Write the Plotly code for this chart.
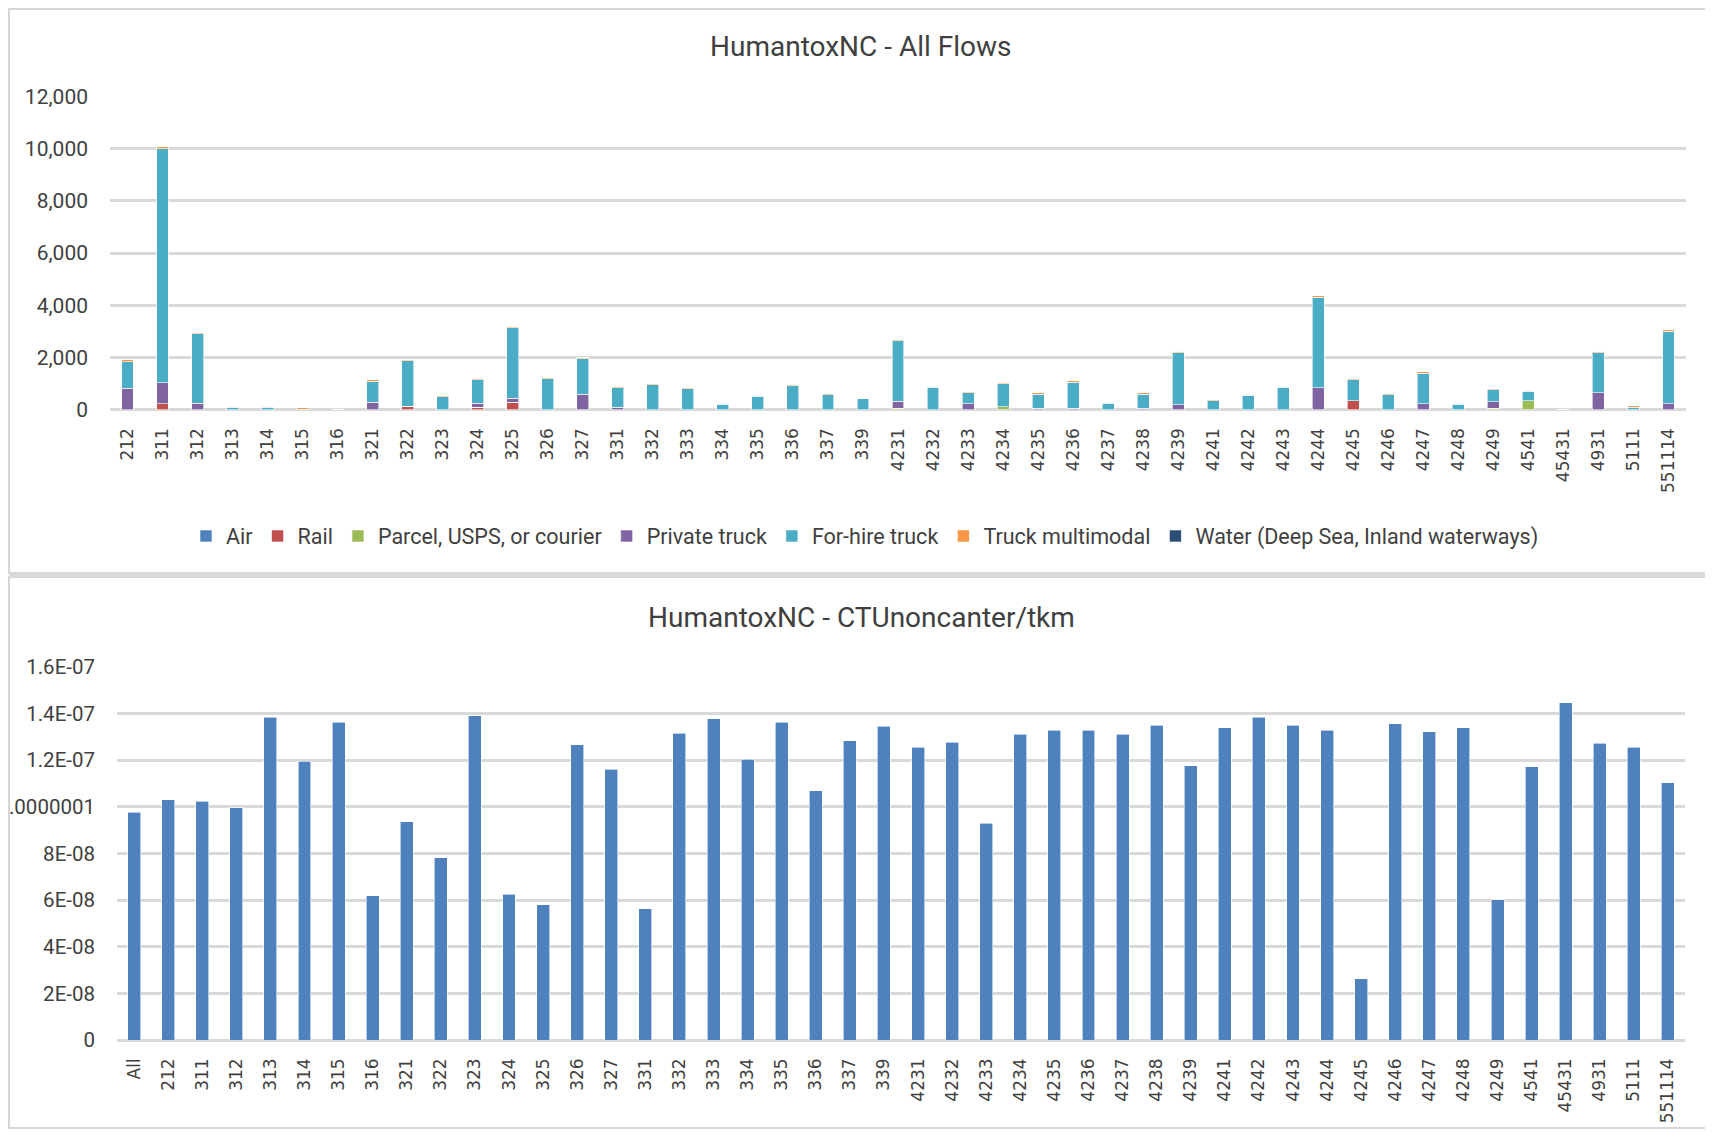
import plotly.graph_objects as go

# ---------------- data ----------------
categories_top = ["212", "311", "312", "313", "314", "315", "316", "321", "322", "323",
                  "324", "325", "326", "327", "331", "332", "333", "334", "335", "336",
                  "337", "339", "4231", "4232", "4233", "4234", "4235", "4236", "4237", "4238",
                  "4239", "4241", "4242", "4243", "4244", "4245", "4246", "4247", "4248", "4249",
                  "4541", "45431", "4931", "5111", "551114"]

air = [0] * 45
rail = [0, 230, 0, 0, 0, 0, 0, 0, 130, 0,
        100, 290, 0, 0, 0, 0, 0, 0, 0, 0,
        0, 0, 0, 0, 0, 0, 0, 0, 0, 0,
        0, 0, 0, 0, 0, 335, 0, 0, 0, 0,
        0, 0, 0, 0, 0]
parcel = [0, 0, 0, 0, 0, 0, 0, 0, 0, 0,
          0, 0, 0, 0, 0, 0, 0, 0, 0, 0,
          0, 0, 50, 0, 0, 120, 0, 0, 0, 0,
          0, 0, 0, 0, 0, 0, 0, 0, 0, 60,
          335, 0, 0, 0, 0]
private_truck = [830, 810, 240, 0, 0, 0, 0, 280, 0, 0,
                 140, 140, 0, 585, 90, 0, 0, 0, 0, 0,
                 0, 0, 280, 0, 237, 0, 60, 60, 0, 60,
                 195, 0, 0, 0, 850, 0, 0, 237, 0, 240,
                 0, 0, 640, 0, 237]
for_hire_truck = [1010, 8960, 2660, 90, 85, 20, 0, 800, 1750, 500,
                  900, 2700, 1180, 1360, 760, 950, 800, 210, 510, 910,
                  565, 410, 2310, 860, 420, 875, 540, 990, 250, 540,
                  1990, 350, 560, 860, 3450, 810, 570, 1160, 210, 460,
                  370, 0, 1550, 100, 2770]
truck_multimodal = [65, 70, 65, 45, 45, 60, 0, 60, 55, 45,
                    55, 60, 60, 60, 50, 50, 50, 40, 45, 50,
                    45, 35, 60, 45, 40, 50, 40, 50, 40, 40,
                    55, 40, 40, 45, 60, 50, 40, 50, 40, 45,
                    45, 0, 50, 50, 55]
water = [0] * 45

categories_bottom = ["All"] + categories_top
ctu_per_tkm = [9.78e-08, 10.30e-08, 10.25e-08, 9.97e-08, 13.85e-08, 11.95e-08, 13.62e-08, 6.18e-08,
               9.36e-08, 7.82e-08, 13.91e-08, 6.25e-08, 5.80e-08, 12.67e-08, 11.61e-08, 5.62e-08,
               13.16e-08, 13.79e-08, 12.04e-08, 13.62e-08, 10.70e-08, 12.84e-08, 13.46e-08, 12.56e-08,
               12.78e-08, 9.29e-08, 13.12e-08, 13.29e-08, 13.29e-08, 13.12e-08, 13.51e-08, 11.76e-08,
               13.40e-08, 13.85e-08, 13.51e-08, 13.29e-08, 2.63e-08, 13.57e-08, 13.23e-08, 13.40e-08,
               6.01e-08, 11.72e-08, 14.46e-08, 12.73e-08, 12.56e-08, 11.03e-08]

top_tickvals = [0, 2000, 4000, 6000, 8000, 10000, 12000]
bottom_tickvals = [0, 2e-08, 4e-08, 6e-08, 8e-08, 1e-07, 1.2e-07, 1.4e-07, 1.6e-07]
bottom_ticktext = ["0", "2E-08", "4E-08", "6E-08", "8E-08", ".0000001", "1.2E-07", "1.4E-07", "1.6E-07"]

series = [
    ("Air", air, "#4F81BD"),
    ("Rail", rail, "#C0504D"),
    ("Parcel, USPS, or courier", parcel, "#9BBB59"),
    ("Private truck", private_truck, "#8064A2"),
    ("For-hire truck", for_hire_truck, "#4BACC6"),
    ("Truck multimodal", truck_multimodal, "#F79646"),
    ("Water (Deep Sea, Inland waterways)", water, "#2C4D75"),
]

# ---------------- figure ----------------
# the page places the figure div at (OX, OY) because of the default body margin
OX, OY = 8, 8
W, H = 1697, 1121
TXT = "#404040"
GRID = "#D9D9D9"

def px(x):
    return (x - OX) / W

def py(y):
    return 1 - (y - OY) / H

fig = go.Figure()
for name, vals, col in series:
    fig.add_trace(go.Bar(x=categories_top, y=vals, name=name, marker_color=col,
                         marker_line_width=0.6, marker_line_color="white",
                         xaxis="x", yaxis="y"))

fig.add_trace(go.Bar(x=categories_bottom, y=ctu_per_tkm, name="CTU", marker_color="#4F81BD",
                     marker_line_width=0.6, marker_line_color="white", width=0.38,
                     showlegend=False, xaxis="x2", yaxis="y2"))

tick_x_font = dict(family="DejaVu Sans", size=17, color=TXT)

fig.update_layout(
    width=W, height=H,
    margin=dict(l=0, r=0, t=0, b=0),
    paper_bgcolor="white", plot_bgcolor="white",
    barmode="stack",
    bargap=0.66,
    showlegend=True,
    legend=dict(orientation="h", x=px(865), xanchor="center", y=py(536), yanchor="middle",
                font=dict(family="Roboto", size=21.5, color=TXT), itemwidth=30,
                traceorder="normal"),
    xaxis=dict(domain=[px(110), px(1686)], anchor="y", type="category", automargin=False,
               tickangle=-90, tickfont=tick_x_font, ticklabelstandoff=14,
               showgrid=False, showline=False, ticks=""),
    yaxis=dict(domain=[py(409.7), py(96.3)], anchor="x", range=[0, 12000], automargin=False,
               tickvals=top_tickvals, tickformat=",",
               tickfont=dict(family="Roboto", size=21, color=TXT),
               showgrid=True, gridcolor=GRID, gridwidth=2.5, zeroline=True,
               zerolinecolor=GRID, zerolinewidth=2.5, showline=False, ticks="",
               ticklabelstandoff=21),
    xaxis2=dict(domain=[px(117), px(1685)], anchor="y2", type="category", automargin=False,
                tickangle=-90, tickfont=tick_x_font, ticklabelstandoff=14,
                showgrid=False, showline=False, ticks=""),
    yaxis2=dict(domain=[py(1040), py(667)], anchor="x2", range=[0, 1.6e-07], automargin=False,
                tickvals=bottom_tickvals, ticktext=bottom_ticktext,
                tickfont=dict(family="Roboto", size=20.5, color=TXT),
                showgrid=True, gridcolor=GRID, gridwidth=2.5, zeroline=True,
                zerolinecolor=GRID, zerolinewidth=2.5, showline=False, ticks="",
                ticklabelstandoff=21),
)

fig.add_annotation(text="HumantoxNC - All Flows", x=px(861), y=py(46), xref="paper", yref="paper",
                   showarrow=False, xanchor="center", yanchor="middle",
                   font=dict(family="Roboto", size=28, color=TXT))
fig.add_annotation(text="HumantoxNC - CTUnoncanter/tkm", x=px(861), y=py(617), xref="paper", yref="paper",
                   showarrow=False, xanchor="center", yanchor="middle",
                   font=dict(family="Roboto", size=28, color=TXT))

# panel frames (right side runs off the picture, as in the reference)
fig.add_shape(type="rect", xref="paper", yref="paper", x0=px(9), x1=px(1720), y0=py(573), y1=py(9),
              line=dict(color="#D6D6D6", width=2), fillcolor="rgba(0,0,0,0)", layer="below")
fig.add_shape(type="rect", xref="paper", yref="paper", x0=px(9), x1=px(1720), y0=py(1128), y1=py(577),
              line=dict(color="#D6D6D6", width=2), fillcolor="rgba(0,0,0,0)", layer="below")
fig.add_shape(type="rect", xref="paper", yref="paper", x0=px(9), x1=px(1720), y0=py(577), y1=py(573),
              line=dict(width=0), fillcolor="#DADADA", layer="below")

fig.write_html("out.html")
